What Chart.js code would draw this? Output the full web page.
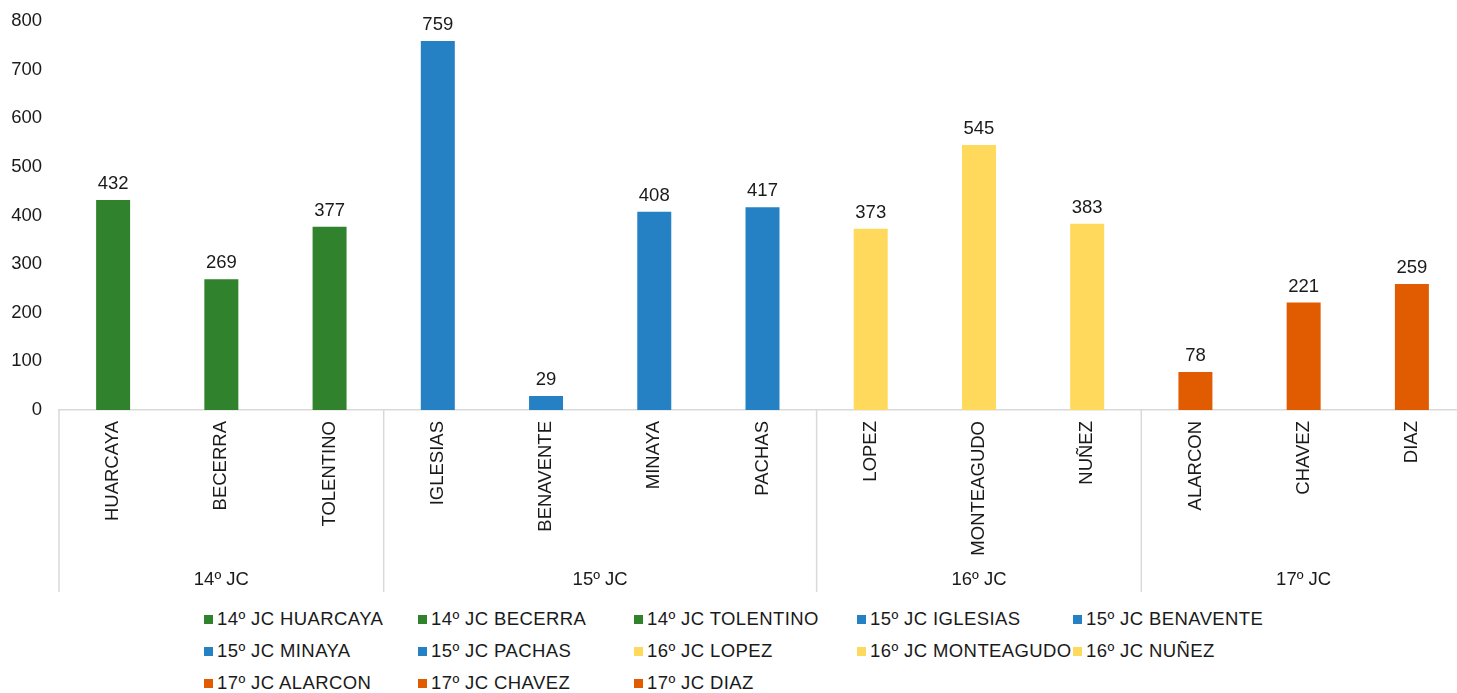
<!DOCTYPE html>
<html>
<head>
<meta charset="utf-8">
<script src="https://cdn.jsdelivr.net/npm/chart.js@4"></script>
<style>
  body { margin: 0; background: #fff; overflow: hidden; }
  #wrap { position: relative; width: 1466px; height: 607px; margin-top: -7px; }
  #legend {
    position: absolute; left: 0; top: 603px; width: 1457px;
    display: grid; grid-template-columns: 214px 216px 223px 216px auto;
    padding-left: 204px; box-sizing: border-box;
    font: 18.5px "Liberation Sans", Arial, sans-serif; letter-spacing: 0.4px; color: #1a1a1a;
  }
  .item { height: 32px; display: flex; align-items: center; white-space: nowrap; }
  .box { width: 9px; height: 9px; margin-right: 4px; flex: none; }
</style>
</head>
<body>
<div id="wrap"><canvas id="chart"></canvas></div>
<div id="legend"></div>
<script>
// Chart data
const names = ['HUARCAYA', 'BECERRA', 'TOLENTINO', 'IGLESIAS', 'BENAVENTE', 'MINAYA', 'PACHAS',
               'LOPEZ', 'MONTEAGUDO', 'NUÑEZ', 'ALARCON', 'CHAVEZ', 'DIAZ'];
const values = [432, 269, 377, 759, 29, 408, 417, 373, 545, 383, 78, 221, 259];
const groups = ['14º JC', '15º JC', '16º JC', '17º JC'];
const groupSizes = [3, 4, 3, 3];
const groupColors = ['#31822c', '#2581c4', '#ffd95c', '#e15b00'];
const yTicks = [0, 100, 200, 300, 400, 500, 600, 700, 800];

const FONT = { family: '"Liberation Sans", Arial, sans-serif', size: 18.5 };
const TEXT = '#1a1a1a';

// one dataset per bar so every bar gets its own legend entry (Excel style)
const barGroup = [];
groupSizes.forEach((n, g) => { for (let k = 0; k < n; k++) barGroup.push(g); });

const datasets = names.map((name, i) => ({
    label: groups[barGroup[i]] + ' ' + name,
    data: names.map((_, j) => (j === i ? values[i] : null)),
    backgroundColor: groupColors[barGroup[i]],
    grouped: false,
    barPercentage: 1,
    categoryPercentage: 0.314
}));

// value labels above bars
const valueLabels = {
    id: 'valueLabels',
    afterDatasetsDraw(chart) {
        const ctx = chart.ctx;
        ctx.save();
        ctx.font = FONT.size + 'px ' + FONT.family;
        ctx.fillStyle = TEXT;
        ctx.textAlign = 'center';
        ctx.textBaseline = 'alphabetic';
        chart.data.datasets.forEach((ds, i) => {
            const bar = chart.getDatasetMeta(i).data[i];
            ctx.fillText(values[i], bar.x, bar.y - 11);
        });
        ctx.restore();
    }
};

// group separators and group names under the category labels
const groupAxis = {
    id: 'groupAxis',
    afterDraw(chart) {
        const ctx = chart.ctx;
        const x = chart.scales.x;
        const half = (x.getPixelForValue(1) - x.getPixelForValue(0)) / 2;
        const top = chart.chartArea.bottom;
        ctx.save();
        ctx.strokeStyle = '#d9d9d9';
        ctx.lineWidth = 1.5;
        ctx.font = FONT.size + 'px ' + FONT.family;
        ctx.fillStyle = TEXT;
        ctx.textAlign = 'center';
        ctx.textBaseline = 'middle';
        let start = 0;
        groupSizes.forEach((n, g) => {
            const left = x.getPixelForValue(start) - half;
            const right = x.getPixelForValue(start + n - 1) + half;
            ctx.beginPath();
            ctx.moveTo(left, top);
            ctx.lineTo(left, top + 182);
            ctx.stroke();
            ctx.fillText(groups[g], (left + right) / 2, top + 170);
            start += n;
        });
        ctx.restore();
    }
};

const chart = new Chart(document.getElementById('chart'), {
    type: 'bar',
    data: { labels: names, datasets: datasets },
    options: {
        responsive: true,
        maintainAspectRatio: false,
        animation: false,
        layout: { padding: { top: 13, right: 0, left: 0, bottom: 0 } },
        plugins: {
            legend: { display: false },
            tooltip: { enabled: false }
        },
        scales: {
            x: {
                grid: { display: false, drawTicks: false },
                border: { display: true, color: '#d9d9d9', width: 1.5 },
                ticks: {
                    color: TEXT, font: FONT, padding: 11,
                    maxRotation: 90, minRotation: 90, autoSkip: false
                },
                afterFit(scale) { scale.height = 190; }
            },
            y: {
                min: 0, max: 800,
                grid: { display: false, drawTicks: false },
                border: { display: false },
                afterBuildTicks(scale) { scale.ticks = yTicks.map(v => ({ value: v })); },
                ticks: { color: TEXT, font: FONT, padding: 17 },
                afterFit(scale) { scale.width = 59; }
            }
        }
    },
    plugins: [valueLabels, groupAxis]
});

// HTML legend laid out as a grid like the original
const legendEl = document.getElementById('legend');
chart.data.datasets.forEach(ds => {
    const item = document.createElement('div');
    item.className = 'item';
    item.innerHTML = `<span class="box" style="background:${ds.backgroundColor}"></span><span>${ds.label}</span>`;
    legendEl.appendChild(item);
});
</script>
</body>
</html>
